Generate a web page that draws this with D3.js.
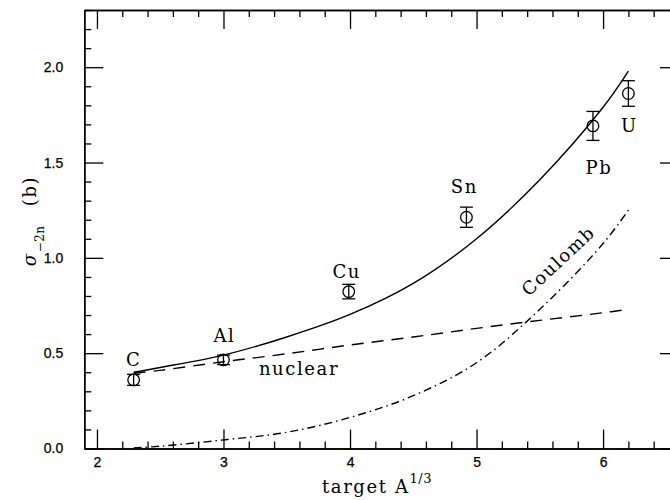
<!DOCTYPE html>
<html><head><meta charset="utf-8">
<script src="https://cdn.jsdelivr.net/npm/d3@7"></script>
<style>
html,body{margin:0;padding:0;background:#fff;}
svg{display:block;}
.lbl{font-family:"DejaVu Serif",serif;font-size:18px;letter-spacing:1.6px;fill:#000;}
.tick text{font-family:"Liberation Sans",Arial,sans-serif;font-size:14px;fill:#000;stroke:#000;stroke-width:0.25px;}
</style></head>
<body>
<script>
// ---- data ----
const elements = ["C", "Al", "Cu", "Sn", "Pb", "U"];
const targetX = [2.29, 3.00, 3.99, 4.92, 5.92, 6.20];
const sigma = [0.36, 0.465, 0.823, 1.213, 1.692, 1.862];
const sigmaErr = [0.029, 0.025, 0.038, 0.053, 0.076, 0.067];

const curveX = [2.29, 2.5, 3.0, 3.5, 4.0, 4.5, 5.0, 5.5, 6.0, 6.2];
const totalCurve = [0.40, 0.425, 0.49, 0.585, 0.703, 0.866, 1.10, 1.41, 1.79, 1.98];
const nuclearCurve = [0.395, 0.41, 0.455, 0.497, 0.543, 0.585, 0.630, 0.672, 0.712, 0.730];
const coulombCurve = [0.003, 0.012, 0.045, 0.085, 0.163, 0.277, 0.45, 0.73, 1.075, 1.25];

const xMajorTicks = [2, 3, 4, 5, 6];
const yMajorTicks = [0.0, 0.5, 1.0, 1.5, 2.0];
const xDomain = [1.9, 6.6];
const yDomain = [0, 2.3];

// ---- layout ----
const W = 670, H = 500;
const M = {left: 84.3, top: 10, right: 679, bottom: 448.5};
const labelOffset = { // pixel offsets of element labels from their data point
  C: [0, -14], Al: [1, -18], Cu: [-2, -14], Sn: [-2, -24], Pb: [6, 48], U: [1, 38]
};

const svg = d3.select("body").append("svg").attr("width", W).attr("height", H);
const x = d3.scaleLinear().domain(xDomain).range([M.left, M.right]);
const y = d3.scaleLinear().domain(yDomain).range([M.bottom, M.top]);

const xMinor = d3.range(2.0, 6.61, 0.2).map(v => +v.toFixed(2)).filter(v => Math.abs(v - Math.round(v)) > 1e-6);
const yMinor = d3.range(0.1, 2.31, 0.1).map(v => +v.toFixed(2)).filter(v => Math.abs(v*2 - Math.round(v*2)) > 1e-6);

const MAJ = 19, MIN = 7;
function styleAxis(g){
  g.selectAll(".domain").attr("stroke", "#000").attr("stroke-width", 1.4);
  g.selectAll(".tick line").attr("stroke", "#000").attr("stroke-width", 1.3);
}
// bottom
svg.append("g").attr("transform", `translate(0,${M.bottom})`)
  .call(d3.axisBottom(x).tickValues(xMajorTicks).tickSize(-MAJ).tickSizeOuter(0).tickPadding(9).tickFormat(d3.format("d")))
  .call(styleAxis);
svg.append("g").attr("transform", `translate(0,${M.bottom})`)
  .call(d3.axisBottom(x).tickValues(xMinor).tickSize(-MIN).tickSizeOuter(0).tickFormat(""))
  .call(styleAxis);
// top
svg.append("g").attr("transform", `translate(0,${M.top})`)
  .call(d3.axisTop(x).tickValues(xMajorTicks).tickSize(-MAJ).tickSizeOuter(0).tickFormat(""))
  .call(styleAxis);
svg.append("g").attr("transform", `translate(0,${M.top})`)
  .call(d3.axisTop(x).tickValues(xMinor).tickSize(-MIN).tickSizeOuter(0).tickFormat(""))
  .call(styleAxis);
// left
svg.append("g").attr("transform", `translate(${M.left},0)`)
  .call(d3.axisLeft(y).tickValues(yMajorTicks).tickSize(-MAJ).tickSizeOuter(0).tickPadding(21).tickFormat(d3.format(".1f")))
  .call(styleAxis);
svg.append("g").attr("transform", `translate(${M.left},0)`)
  .call(d3.axisLeft(y).tickValues(yMinor).tickSize(-MIN).tickSizeOuter(0).tickFormat(""))
  .call(styleAxis);
// right
svg.append("g").attr("transform", `translate(${M.right},0)`)
  .call(d3.axisRight(y).tickValues(yMajorTicks).tickSize(-MAJ).tickSizeOuter(0).tickFormat(""))
  .call(styleAxis);
svg.append("g").attr("transform", `translate(${M.right},0)`)
  .call(d3.axisRight(y).tickValues(yMinor).tickSize(-MIN).tickSizeOuter(0).tickFormat(""))
  .call(styleAxis);

// curves
const line = d3.line().x(d => x(d[0])).y(d => y(d[1])).curve(d3.curveCatmullRom.alpha(0.5));
function drawCurve(vals, dash){
  svg.append("path").datum(curveX.map((v, i) => [v, vals[i]]))
    .attr("d", line).attr("fill", "none").attr("stroke", "#000").attr("stroke-width", 1.4)
    .attr("stroke-dasharray", dash);
}
drawCurve(totalCurve, null);
drawCurve(nuclearCurve, "12,8");
drawCurve(coulombCurve, "8,4,1.5,4");

// data points
const pts = elements.map((e, i) => ({e, x: targetX[i], y: sigma[i], err: sigmaErr[i]}));
const gp = svg.append("g").attr("stroke", "#000").attr("stroke-width", 1.3).attr("fill", "none");
pts.forEach(p => {
  const cx = x(p.x), y0 = y(p.y - p.err), y1 = y(p.y + p.err);
  gp.append("line").attr("x1", cx).attr("x2", cx).attr("y1", y0).attr("y2", y1);
  gp.append("line").attr("x1", cx - 6.5).attr("x2", cx + 6.5).attr("y1", y0).attr("y2", y0);
  gp.append("line").attr("x1", cx - 6.5).attr("x2", cx + 6.5).attr("y1", y1).attr("y2", y1);
  gp.append("circle").attr("cx", cx).attr("cy", y(p.y)).attr("r", 5.8);
});

// element labels
svg.selectAll("text.el").data(pts).enter().append("text").attr("class", "lbl")
  .attr("x", d => x(d.x) + labelOffset[d.e][0])
  .attr("y", d => y(d.y) + labelOffset[d.e][1])
  .attr("text-anchor", "middle").text(d => d.e);

// curve labels
svg.append("text").attr("class", "lbl").attr("x", x(3.28)).attr("y", y(0.385)).text("nuclear");
svg.append("text").attr("class", "lbl").attr("text-anchor", "middle")
  .attr("transform", `translate(${x(5.68)},${y(0.96)}) rotate(-43)`).text("Coulomb");

// axis titles
const xt = svg.append("text").attr("class", "lbl").attr("x", 322).attr("y", 493);
xt.append("tspan").text("target A");
xt.append("tspan").attr("dy", -10).attr("font-size", 13).attr("letter-spacing", "0.5px").text("1/3");

const yt = svg.append("text").attr("class", "lbl").attr("text-anchor", "middle")
  .attr("transform", `translate(36,221) rotate(-90)`);
yt.append("tspan").attr("font-style", "italic").attr("font-size", 18).text("σ");
yt.append("tspan").attr("dy", 8).attr("font-size", 12).attr("letter-spacing", "0.5px").text("−2n");
yt.append("tspan").attr("dy", -8).attr("dx", 12).text(" (b)");
</script>
</body></html>
